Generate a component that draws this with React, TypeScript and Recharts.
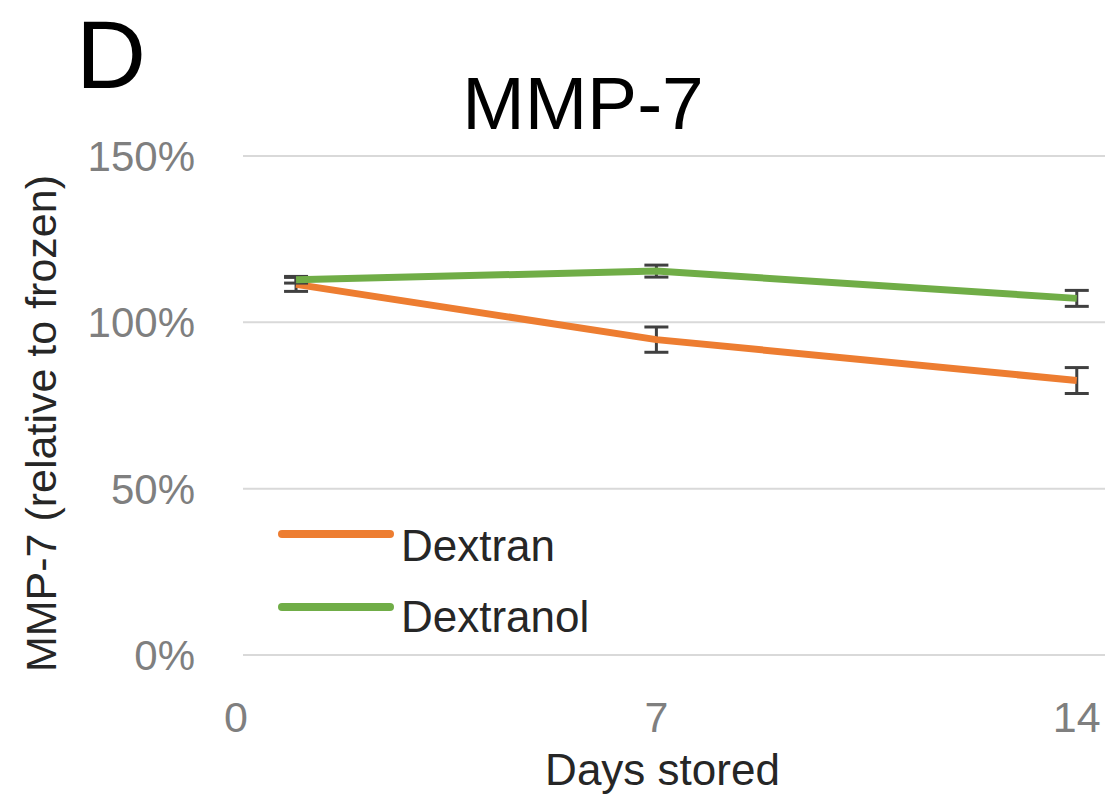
import React from 'react';
import { LineChart, Line, XAxis, YAxis, CartesianGrid, ErrorBar, Legend, Label } from 'recharts';

const days = [1, 7, 14];
const dextran = [1.114, 0.948, 0.825];
const dextranErr = [0.021, 0.038, 0.039];
const dextranol = [1.128, 1.154, 1.072];
const dextranolErr = [0.01, 0.018, 0.024];
const xTicks = [0, 7, 14];
const yTicks = [0, 0.5, 1.0, 1.5];
const seriesNames = ['Dextran', 'Dextranol'];

const data = days.map((d, i) => ({
  day: d,
  dextran: dextran[i],
  dextranErr: dextranErr[i],
  dextranol: dextranol[i],
  dextranolErr: dextranolErr[i],
}));

const FONT = '"Liberation Sans", Arial, sans-serif';
const ORANGE = '#ED7D31';
const GREEN = '#70AD47';
const colors = [ORANGE, GREEN];

const LegendContent = () => (
  <div style={{ position: 'relative', width: 330, height: 140, fontFamily: FONT, fontSize: 44, color: '#262626' }}>
    {seriesNames.map((name, i) => (
      <React.Fragment key={name}>
        <div style={{ position: 'absolute', left: 0, top: 30 + i * 73, width: 116, height: 8, borderRadius: 4, background: colors[i] }} />
        <span style={{ position: 'absolute', left: 123, top: 24 + i * 71, lineHeight: 1, whiteSpace: 'nowrap' }}>{name}</span>
      </React.Fragment>
    ))}
  </div>
);

export default function App() {
  return (
    <div style={{ position: 'absolute', left: 0, top: 0, width: 1105, height: 794, background: '#fff', fontFamily: FONT, overflow: 'hidden' }}>
      <div style={{ position: 'absolute', left: 76, top: 6, fontSize: 97, color: '#000', lineHeight: 1 }}>D</div>
      <div style={{ position: 'absolute', left: 0, width: 1166, top: 66, textAlign: 'center', fontSize: 75, color: '#000', lineHeight: 1 }}>MMP-7</div>
      <LineChart width={1105} height={794} data={data} margin={{ top: 156, right: 0, bottom: 0, left: 0 }}>
        <CartesianGrid vertical={false} stroke="#d9d9d9" strokeWidth={2} x={243} width={862} />
        <XAxis
          dataKey="day"
          type="number"
          domain={[0, 14.47]}
          ticks={xTicks}
          axisLine={false}
          tickLine={false}
          tickSize={0}
          tickMargin={46}
          height={139}
          tick={{ fill: '#7f7f7f', fontSize: 43, fontFamily: FONT }}
        >
          <Label
            content={(props: any) => {
              const vb = props.viewBox || { x: 236, y: 655, width: 869, height: 139 };
              const cx = vb.x + vb.width / 2 - 8;
              const by = vb.y + 130;
              return (
                <text x={cx} y={by} textAnchor="middle" fill="#262626" fontSize={44} fontFamily={FONT}>
                  Days stored
                </text>
              );
            }}
          />
        </XAxis>
        <YAxis
          type="number"
          domain={[0, 1.5]}
          ticks={yTicks}
          axisLine={false}
          tickLine={false}
          tickSize={0}
          tickMargin={41}
          width={236}
          tickFormatter={(v: number) => `${Math.round(v * 100)}%`}
          tick={{ fill: '#7f7f7f', fontSize: 42, fontFamily: FONT }}
        >
          <Label
            content={(props: any) => {
              const vb = props.viewBox || { x: 0, y: 156, width: 236, height: 499 };
              const cx = vb.x + 41;
              const cy = vb.y + vb.height / 2 + 18;
              return (
                <text x={cx} y={cy} transform={`rotate(-90, ${cx}, ${cy})`} textAnchor="middle" dominantBaseline="central" fill="#262626" fontSize={43} fontFamily={FONT}>
                  MMP-7 (relative to frozen)
                </text>
              );
            }}
          />
        </YAxis>
        <Legend
          layout="vertical"
          align="center"
          verticalAlign="middle"
          content={<LegendContent />}
          wrapperStyle={{ position: 'absolute', left: 278, top: 500, width: 330, height: 140 }}
        />
        <Line dataKey="dextran" stroke={ORANGE} strokeWidth={7} dot={false} isAnimationActive={false}>
          <ErrorBar dataKey="dextranErr" direction="y" width={12} stroke="#404040" strokeWidth={3} />
        </Line>
        <Line dataKey="dextranol" stroke={GREEN} strokeWidth={7} dot={false} isAnimationActive={false}>
          <ErrorBar dataKey="dextranolErr" direction="y" width={12} stroke="#404040" strokeWidth={3} />
        </Line>
      </LineChart>
    </div>
  );
}
